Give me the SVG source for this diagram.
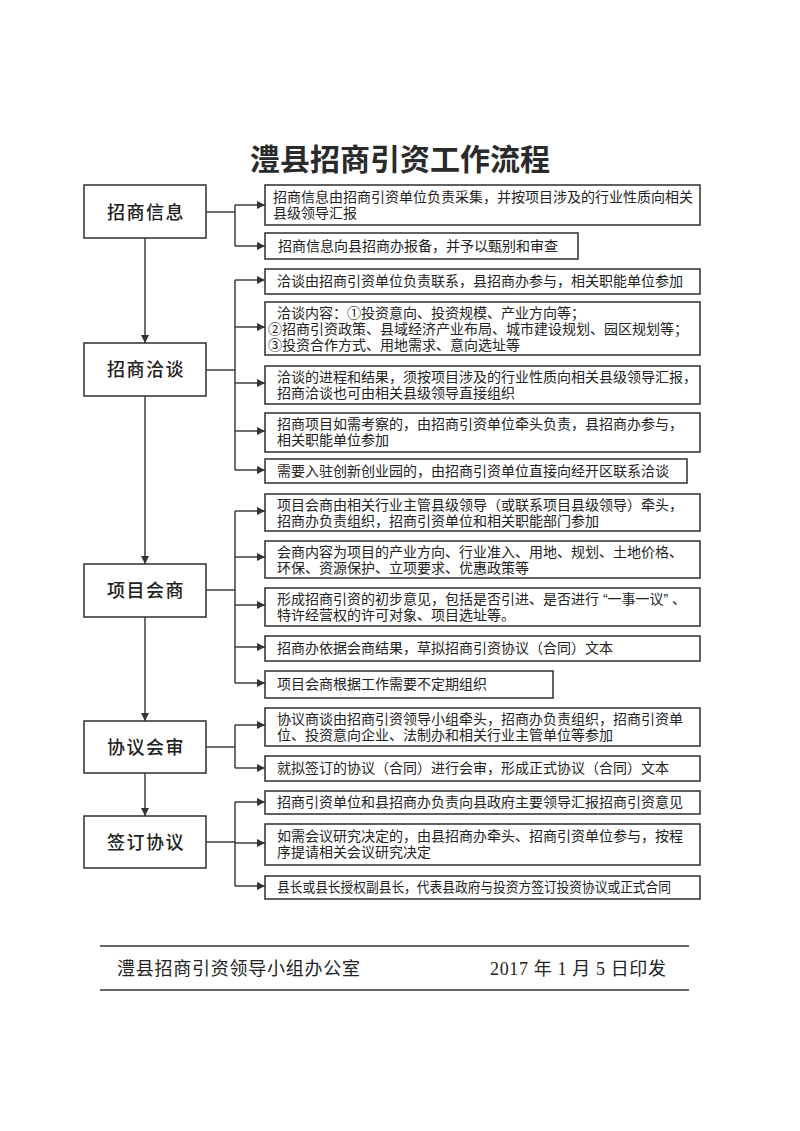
<svg xmlns="http://www.w3.org/2000/svg" width="800" height="1131" viewBox="0 0 800 1131">
<defs>
<style>
.bg{fill:#ffffff}
.box{fill:#ffffff;stroke:#2e2e2e;stroke-width:1.5}
.lbl{font-family:"Noto Sans CJK SC","Noto Sans",sans-serif;font-size:18px;font-weight:500;fill:#222;letter-spacing:1.5px;text-anchor:middle}
.t{font-family:"Liberation Sans","Noto Sans CJK SC",sans-serif;font-size:14px;fill:#222}
.title{font-family:"Noto Sans CJK SC","Noto Sans",sans-serif;font-size:30px;font-weight:bold;fill:#2a2a2a;text-anchor:middle}
.foot{font-family:"Noto Sans CJK SC","Noto Sans",sans-serif;font-size:18px;fill:#222}
.footn{font-family:"Liberation Serif","Noto Sans CJK SC",serif;font-size:18px;fill:#222}
.ln{fill:none;stroke:#333;stroke-width:1.4}
.rule{stroke:#333;stroke-width:1.6}
</style>
<marker id="ah" viewBox="0 0 10 10" refX="10" refY="5" markerWidth="9" markerHeight="8" markerUnits="userSpaceOnUse" orient="auto">
<path d="M0,0 L10,5 L0,10 z" fill="#333"/>
</marker>
</defs>
<rect class="bg" x="0" y="0" width="800" height="1131"/>

<text class="title" x="400" y="170">澧县招商引资工作流程</text>

<g id="connectors">
<line class="ln" x1="145" y1="238" x2="145" y2="343" marker-end="url(#ah)"/>
<line class="ln" x1="145" y1="396" x2="145" y2="564" marker-end="url(#ah)"/>
<line class="ln" x1="145" y1="617" x2="145" y2="721" marker-end="url(#ah)"/>
<line class="ln" x1="145" y1="773" x2="145" y2="816" marker-end="url(#ah)"/>
<line class="ln" x1="206" y1="212" x2="235" y2="212"/>
<line class="ln" x1="235" y1="205" x2="235" y2="246"/>
<line class="ln" x1="235" y1="205" x2="265" y2="205" marker-end="url(#ah)"/>
<line class="ln" x1="235" y1="246" x2="265" y2="246" marker-end="url(#ah)"/>
<line class="ln" x1="206" y1="370" x2="235" y2="370"/>
<line class="ln" x1="235" y1="280" x2="235" y2="470"/>
<line class="ln" x1="235" y1="280" x2="265" y2="280" marker-end="url(#ah)"/>
<line class="ln" x1="235" y1="327" x2="265" y2="327" marker-end="url(#ah)"/>
<line class="ln" x1="235" y1="383" x2="265" y2="383" marker-end="url(#ah)"/>
<line class="ln" x1="235" y1="431" x2="265" y2="431" marker-end="url(#ah)"/>
<line class="ln" x1="235" y1="470" x2="265" y2="470" marker-end="url(#ah)"/>
<line class="ln" x1="206" y1="590" x2="235" y2="590"/>
<line class="ln" x1="235" y1="511" x2="235" y2="683"/>
<line class="ln" x1="235" y1="511" x2="265" y2="511" marker-end="url(#ah)"/>
<line class="ln" x1="235" y1="557" x2="265" y2="557" marker-end="url(#ah)"/>
<line class="ln" x1="235" y1="605" x2="265" y2="605" marker-end="url(#ah)"/>
<line class="ln" x1="235" y1="647" x2="265" y2="647" marker-end="url(#ah)"/>
<line class="ln" x1="235" y1="683" x2="265" y2="683" marker-end="url(#ah)"/>
<line class="ln" x1="206" y1="747" x2="235" y2="747"/>
<line class="ln" x1="235" y1="725" x2="235" y2="768"/>
<line class="ln" x1="235" y1="725" x2="265" y2="725" marker-end="url(#ah)"/>
<line class="ln" x1="235" y1="768" x2="265" y2="768" marker-end="url(#ah)"/>
<line class="ln" x1="206" y1="842" x2="235" y2="842"/>
<line class="ln" x1="235" y1="802" x2="235" y2="886"/>
<line class="ln" x1="235" y1="802" x2="265" y2="802" marker-end="url(#ah)"/>
<line class="ln" x1="235" y1="843" x2="265" y2="843" marker-end="url(#ah)"/>
<line class="ln" x1="235" y1="886" x2="265" y2="886" marker-end="url(#ah)"/>
</g>

<g id="step1"><rect class="box" x="84" y="185" width="122" height="53"/><text class="lbl" x="146" y="219">招商信息</text></g>
<g id="step2"><rect class="box" x="84" y="343" width="122" height="53"/><text class="lbl" x="146" y="376">招商洽谈</text></g>
<g id="step3"><rect class="box" x="84" y="564" width="122" height="53"/><text class="lbl" x="146" y="597">项目会商</text></g>
<g id="step4"><rect class="box" x="84" y="721" width="122" height="52"/><text class="lbl" x="146" y="754">协议会审</text></g>
<g id="step5"><rect class="box" x="84" y="816" width="122" height="52"/><text class="lbl" x="146" y="849">签订协议</text></g>

<g id="b1"><rect class="box" x="265" y="185" width="435" height="40"/>
<text class="t" x="273" y="202">招商信息由招商引资单位负责采集，并按项目涉及的行业性质向相关<tspan x="273" dy="16">县级领导汇报</tspan></text></g>
<g id="b2"><rect class="box" x="265" y="233" width="313" height="26"/>
<text class="t" x="278" y="251">招商信息向县招商办报备，并予以甄别和审查</text></g>

<g id="c1"><rect class="box" x="265" y="269" width="435" height="25"/>
<text class="t" x="277" y="286">洽谈由招商引资单位负责联系，县招商办参与，相关职能单位参加</text></g>
<g id="c2"><rect class="box" x="265" y="302" width="435" height="53"/>
<text class="t" x="277" y="318">洽谈内容：①投资意向、投资规模、产业方向等；<tspan x="268" dy="16">②招商引资政策、县域经济产业布局、城市建设规划、园区规划等；</tspan><tspan x="268" dy="16">③投资合作方式、用地需求、意向选址等</tspan></text></g>
<g id="c3"><rect class="box" x="265" y="366" width="435" height="38"/>
<text class="t" x="277" y="382">洽谈的进程和结果，须按项目涉及的行业性质向相关县级领导汇报，<tspan x="277" dy="16">招商洽谈也可由相关县级领导直接组织</tspan></text></g>
<g id="c4"><rect class="box" x="265" y="413" width="435" height="39"/>
<text class="t" x="277" y="429">招商项目如需考察的，由招商引资单位牵头负责，县招商办参与，<tspan x="277" dy="16">相关职能单位参加</tspan></text></g>
<g id="c5"><rect class="box" x="265" y="459" width="422" height="24"/>
<text class="t" x="277" y="476">需要入驻创新创业园的，由招商引资单位直接向经开区联系洽谈</text></g>

<g id="d1"><rect class="box" x="265" y="494" width="435" height="37"/>
<text class="t" x="277" y="510">项目会商由相关行业主管县级领导（或联系项目县级领导）牵头，<tspan x="277" dy="16">招商办负责组织，招商引资单位和相关职能部门参加</tspan></text></g>
<g id="d2"><rect class="box" x="265" y="541" width="435" height="37"/>
<text class="t" x="277" y="557">会商内容为项目的产业方向、行业准入、用地、规划、土地价格、<tspan x="277" dy="16">环保、资源保护、立项要求、优惠政策等</tspan></text></g>
<g id="d3"><rect class="box" x="265" y="588" width="435" height="38"/>
<text class="t" x="277" y="604">形成招商引资的初步意见，包括是否引进、是否进行 “一事一议” 、<tspan x="277" dy="16">特许经营权的许可对象、项目选址等。</tspan></text></g>
<g id="d4"><rect class="box" x="265" y="636" width="435" height="25"/>
<text class="t" x="277" y="653">招商办依据会商结果，草拟招商引资协议（合同）文本</text></g>
<g id="d5"><rect class="box" x="265" y="671" width="288" height="27"/>
<text class="t" x="277" y="689">项目会商根据工作需要不定期组织</text></g>

<g id="e1"><rect class="box" x="265" y="708" width="435" height="38"/>
<text class="t" x="277" y="724">协议商谈由招商引资领导小组牵头，招商办负责组织，招商引资单<tspan x="277" dy="16">位、投资意向企业、法制办和相关行业主管单位等参加</tspan></text></g>
<g id="e2"><rect class="box" x="265" y="756" width="435" height="25"/>
<text class="t" x="277" y="773">就拟签订的协议（合同）进行会审，形成正式协议（合同）文本</text></g>

<g id="f1"><rect class="box" x="265" y="791" width="435" height="23"/>
<text class="t" x="277" y="807">招商引资单位和县招商办负责向县政府主要领导汇报招商引资意见</text></g>
<g id="f2"><rect class="box" x="265" y="824" width="435" height="41"/>
<text class="t" x="277" y="841">如需会议研究决定的，由县招商办牵头、招商引资单位参与，按程<tspan x="277" dy="16">序提请相关会议研究决定</tspan></text></g>
<g id="f3"><rect class="box" x="265" y="876" width="435" height="23"/>
<text class="t" x="277" y="892" textLength="394" lengthAdjust="spacingAndGlyphs">县长或县长授权副县长，代表县政府与投资方签订投资协议或正式合同</text></g>

<g id="footer">
<line class="rule" x1="100" y1="946" x2="689" y2="946"/>
<text class="foot" x="117" y="975" textLength="243" lengthAdjust="spacing">澧县招商引资领导小组办公室</text>
<text class="footn" x="490" y="975" textLength="176" lengthAdjust="spacing">2017 年 1 月 5 日印发</text>
<line class="rule" x1="100" y1="990" x2="689" y2="990"/>
</g>
</svg>
